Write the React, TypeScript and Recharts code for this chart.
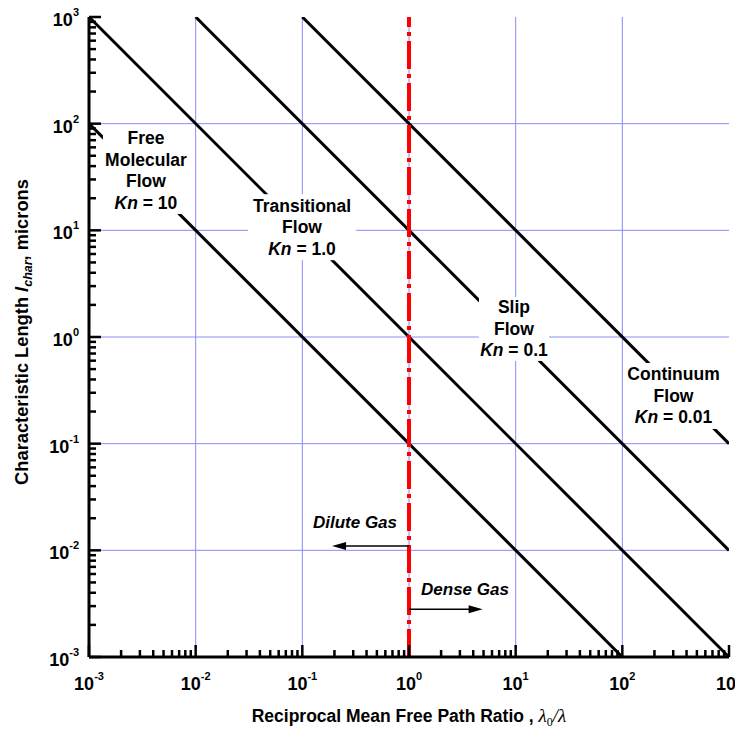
import React from "react";
import { LineChart, Line, XAxis, YAxis, ReferenceLine, ReferenceDot } from "recharts";

// axis decades (tick labels are 10^n) and minor steps inside a decade
const DECADES = [0.001, 0.01, 0.1, 1, 10, 100, 1000];
const MINOR_STEPS = [2, 3, 4, 5, 6, 7, 8, 9];

// Kn lines, slope -1 on log-log, end points where they meet the frame
const KN_10 = [{ x: 0.001, y: 100 }, { x: 100, y: 0.001 }];
const KN_1 = [{ x: 0.001, y: 1000 }, { x: 1000, y: 0.001 }];
const KN_01 = [{ x: 0.01, y: 1000 }, { x: 1000, y: 0.01 }];
const KN_001 = [{ x: 0.1, y: 1000 }, { x: 1000, y: 0.1 }];

// dilute / dense boundary
const GAS_LIMIT = 1;

const FONT = "Arial, 'Liberation Sans', Helvetica, sans-serif";
const SERIF = "'Times New Roman', 'Liberation Serif', serif";
const GRID = "#8a8aff";

const TICKS = DECADES.flatMap((d, i) =>
  i < DECADES.length - 1 ? [d, ...MINOR_STEPS.map((s) => +(d * s).toPrecision(3))] : [d]
);

const NOTES = [
  { x: 0.00342, y: 36.4, lines: ["Free", "Molecular", "Flow"], kn: "10", w: 86, h: 87 },
  { x: 0.0994, y: 10.7, lines: ["Transitional", "Flow"], kn: "1.0", w: 108, h: 66 },
  { x: 9.64, y: 1.19, lines: ["Slip", "Flow"], kn: "0.1", w: 70, h: 64 },
  { x: 302, y: 0.28, lines: ["Continuum", "Flow"], kn: "0.01", w: 94, h: 66 },
];

const ARROWS = [
  { y: 0.011, to: 0.19, text: "Dilute Gas", dx: -54, dy: -18 },
  { y: 0.0028, to: 4.9, text: "Dense Gas", dx: 56, dy: -14 },
];

const isDecade = (v: number) => Math.abs(Math.log10(v) - Math.round(Math.log10(v))) < 1e-6;

function AxisTick(props: any) {
  const { x, y, payload, side } = props;
  const v = payload.value;
  const major = isDecade(v);
  const len = major ? 12 : 7;
  let x2 = x;
  let y2 = y;
  if (side === "bottom") y2 = y - len;
  if (side === "top") y2 = y + len;
  if (side === "left") x2 = x + len;
  if (side === "right") x2 = x - len;
  const exp = `${Math.round(Math.log10(v))}`;
  return (
    <g>
      <line x1={x} y1={y} x2={x2} y2={y2} stroke="#000" strokeWidth={2.5} />
      {major && side === "bottom" && (
        <text x={x} y={y + 33} textAnchor="middle" fontFamily={FONT} fontWeight="bold" fontSize={18} fill="#000">
          10<tspan dy={-10} fontSize={11}>{exp}</tspan>
        </text>
      )}
      {major && side === "left" && (
        <text x={x - 10} y={y + 9} textAnchor="end" fontFamily={FONT} fontWeight="bold" fontSize={18} fill="#000">
          10<tspan dy={-10} fontSize={11}>{exp}</tspan>
        </text>
      )}
    </g>
  );
}

function FlowNote({ cx, cy, note }: any) {
  const rows = [...note.lines, null];
  const n = rows.length;
  return (
    <g>
      <rect x={cx - note.w / 2} y={cy - note.h / 2} width={note.w} height={note.h} fill="#fff" />
      <text textAnchor="middle" fontFamily={FONT} fontWeight="bold" fontSize={17.5} fill="#000">
        {rows.map((r, i) => (
          <tspan key={i} x={cx} y={cy + (i - (n - 1) / 2) * 21.5 + 6}>
            {r === null ? (
              <>
                <tspan fontStyle="italic">Kn</tspan>
                {` = ${note.kn}`}
              </>
            ) : (
              r
            )}
          </tspan>
        ))}
      </text>
    </g>
  );
}

function Arrow(props: any) {
  const { x1, y1, x2, y2, a } = props;
  const dir = x2 > x1 ? 1 : -1;
  const tip = x2;
  return (
    <g>
      <line x1={x1} y1={y1} x2={tip - dir * 10} y2={y2} stroke="#000" strokeWidth={1.5} />
      <polygon points={`${tip},${y2} ${tip - dir * 14},${y2 - 4} ${tip - dir * 14},${y2 + 4}`} fill="#000" />
      <text
        x={x1 + a.dx}
        y={y1 + a.dy}
        textAnchor="middle"
        fontFamily={FONT}
        fontWeight="bold"
        fontStyle="italic"
        fontSize={17}
        fill="#000"
      >
        {a.text}
      </text>
    </g>
  );
}

const XTitle = ({ viewBox }: any) => (
  <text
    x={viewBox.x + viewBox.width / 2}
    y={viewBox.y + 65}
    textAnchor="middle"
    fontFamily={FONT}
    fontWeight="bold"
    fontSize={17.5}
    fill="#000"
  >
    Reciprocal Mean Free Path Ratio ,{" "}
    <tspan fontFamily={SERIF} fontStyle="italic" fontWeight="normal" fontSize={19}>
      λ
    </tspan>
    <tspan fontFamily={SERIF} fontWeight="normal" fontSize={12} dy={4}>
      0
    </tspan>
    <tspan fontFamily={SERIF} fontStyle="italic" fontWeight="normal" fontSize={19} dy={-4}>
      /λ
    </tspan>
  </text>
);

const YTitle = ({ viewBox }: any) => {
  const cx = viewBox.x + 28;
  const cy = viewBox.y + viewBox.height / 2 - 5;
  return (
    <text
      x={cx}
      y={cy}
      transform={`rotate(-90, ${cx}, ${cy})`}
      textAnchor="middle"
      fontFamily={FONT}
      fontWeight="bold"
      fontSize={18.3}
      fill="#000"
    >
      Characteristic Length <tspan fontStyle="italic">l</tspan>
      <tspan fontStyle="italic" fontSize={12.5} dy={4}>
        char
      </tspan>
      <tspan dy={-4}>, microns</tspan>
    </text>
  );
};

const axisCommon = {
  type: "number" as const,
  scale: "log" as const,
  domain: [0.001, 1000],
  allowDataOverflow: true,
  ticks: TICKS,
  interval: 0 as const,
  tickSize: 0,
  tickMargin: 0,
  tickLine: false,
  axisLine: { stroke: "#000", strokeWidth: 3 },
};

export default function App() {
  return (
    <div style={{ position: "absolute", left: 0, top: 0, background: "#fff" }}>
      <LineChart width={735} height={729} margin={{ top: 17, right: 6, bottom: 0, left: 0 }}>
        <XAxis
          {...axisCommon}
          dataKey="x"
          orientation="bottom"
          height={72}
          tick={(p: any) => <AxisTick {...p} side="bottom" />}
          label={{ content: (p: any) => <XTitle {...p} /> }}
        />
        <XAxis {...axisCommon} xAxisId="top" dataKey="x" orientation="top" height={0} tick={(p: any) => <AxisTick {...p} side="top" />} />
        <YAxis
          {...axisCommon}
          orientation="left"
          width={89}
          tick={(p: any) => <AxisTick {...p} side="left" />}
          label={{ content: (p: any) => <YTitle {...p} /> }}
        />
        <YAxis {...axisCommon} yAxisId="right" orientation="right" width={0} tick={(p: any) => <AxisTick {...p} side="right" />} />

        {DECADES.slice(1, -1).map((d) => (
          <ReferenceLine key={`gx${d}`} x={d} stroke={GRID} strokeWidth={1} />
        ))}
        {DECADES.slice(1, -1).map((d) => (
          <ReferenceLine key={`gy${d}`} y={d} stroke={GRID} strokeWidth={1} />
        ))}

        {[KN_10, KN_1, KN_01, KN_001].map((data, i) => (
          <Line
            key={i}
            data={data}
            dataKey="y"
            stroke="#000"
            strokeWidth={3}
            dot={false}
            activeDot={false}
            isAnimationActive={false}
          />
        ))}

        {NOTES.map((n, i) => (
          <ReferenceDot key={`n${i}`} x={n.x} y={n.y} r={1} shape={(p: any) => <FlowNote cx={p.cx} cy={p.cy} note={n} />} />
        ))}

        <ReferenceLine x={GAS_LIMIT} stroke="#ff0000" strokeWidth={4} strokeDasharray="28 5 4 5" />

        {ARROWS.map((a, i) => (
          <ReferenceLine
            key={`a${i}`}
            segment={[
              { x: GAS_LIMIT, y: a.y },
              { x: a.to, y: a.y },
            ]}
            shape={(p: any) => <Arrow {...p} a={a} />}
          />
        ))}
      </LineChart>
    </div>
  );
}
